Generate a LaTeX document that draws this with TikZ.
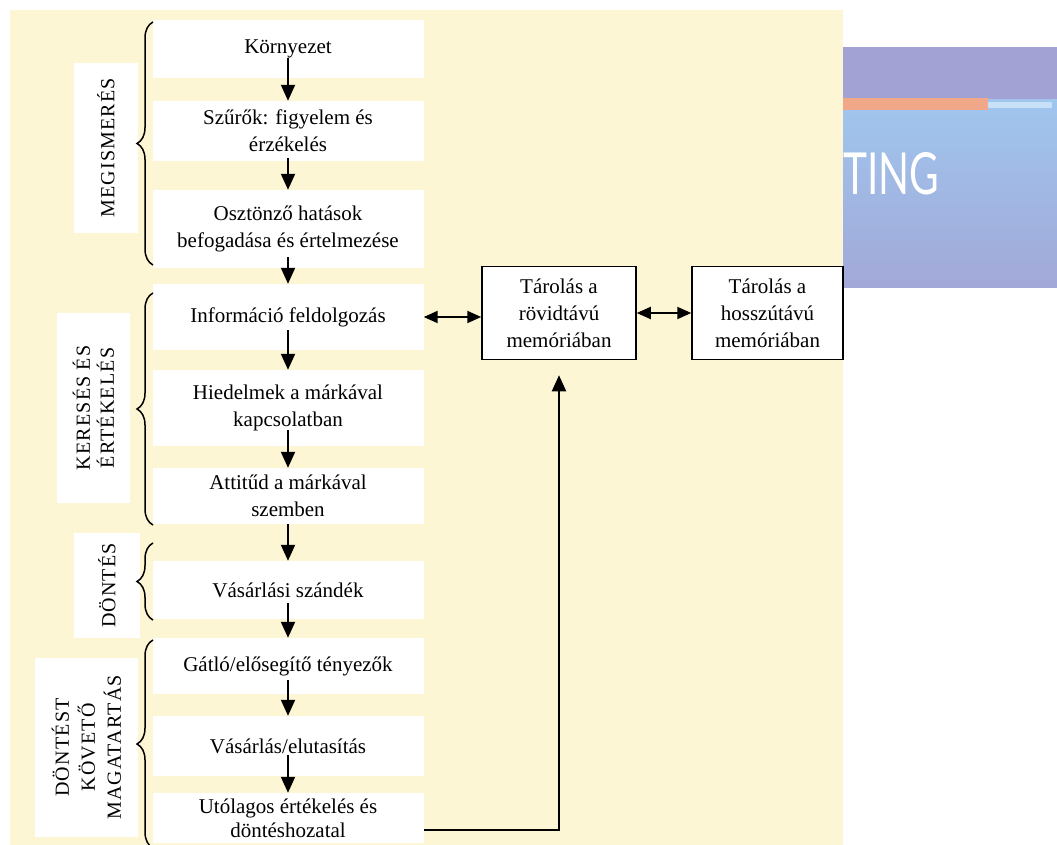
\documentclass[tikz,border=0pt]{standalone}
\usepackage{fontspec}
\setmainfont{Liberation Serif}
\newfontfamily\cimfont{Lato}
\newfontfamily\ritkafont[LetterSpace=6]{Liberation Serif}
\usetikzlibrary{arrows.meta,decorations.pathreplacing}
\definecolor{krem}{RGB}{253,246,212}
\definecolor{lila}{RGB}{162,163,212}
\definecolor{egkek}{RGB}{160,198,238}
\definecolor{narancs}{RGB}{240,168,136}
\definecolor{halvany}{RGB}{200,224,248}
\begin{document}
\begin{tikzpicture}[x=1pt, y=-1pt,
    font=\fontsize{21}{27}\selectfont,
    doboz/.style={fill=white, minimum width=271pt, align=center, inner sep=0pt},
    cimke/.style={fill=white, rotate=90, align=center, inner sep=0pt, font=\ritkafont\fontsize{20}{26}\selectfont},
    tarolo/.style={draw, line width=1.5pt, fill=white, minimum height=93pt, align=center, inner sep=0pt},
    nyil/.style={-{Triangle[length=16pt, width=14pt]}, line width=2pt},
    kettos/.style={{Triangle[length=14pt, width=12pt]}-{Triangle[length=14pt, width=12pt]}, line width=2pt},
    kapocs/.style={decorate, decoration={brace, amplitude=16pt}, line width=1.5pt}]
\useasboundingbox (0,0) rectangle (1057,845);

% háttér és a dia sarka
\fill[krem] (10,10) rectangle (843,845);
\fill[lila] (843,47) rectangle (1057,100);
\shade[top color=egkek, bottom color=lila!85!egkek] (843,100) rectangle (1057,287);
\fill[narancs] (843,98) rectangle (988,110);
\fill[halvany] (988,102) rectangle (1052,108);
\node[anchor=west, text=white, inner sep=0pt, font={\cimfont\fontsize{58}{60}\selectfont}] (ting) at (843,174) {\scalebox{0.7}[1]{TING}};

% a folyamat lépései
\node[doboz, minimum height=58pt] (kornyezet) at (288,49) {Környezet};
\node[doboz, minimum height=60pt] (szurok) at (288,131) {Szűrők: figyelem és\\ érzékelés};
\node[doboz, minimum height=78pt] (osztonzo) at (288,229) {Osztönző hatások\\ befogadása és értelmezése};
\node[doboz, minimum height=66pt] (informacio) at (288,317) {Információ feldolgozás};
\node[doboz, minimum height=76pt] (hiedelmek) at (288,408) {Hiedelmek a márkával\\ kapcsolatban};
\node[doboz, minimum height=56pt] (attitud) at (288,496) {Attitűd a márkával\\ szemben};
\node[doboz, minimum height=58pt] (szandek) at (288,590) {Vásárlási szándék};
\node[doboz, minimum height=56pt] (gatlo) at (288,666) {Gátló/elősegítő tényezők};
\node[doboz, minimum height=60pt] (vasarlas) at (288,746) {Vásárlás/elutasítás};
\node[doboz, minimum height=50pt, font=\fontsize{21}{24}\selectfont] (utolagos) at (288,818) {Utólagos értékelés és\\ döntéshozatal};

% memória
\node[tarolo, minimum width=154pt] (rovid) at (559,313) {Tárolás a\\ rövidtávú\\ memóriában};
\node[tarolo, minimum width=151pt] (hosszu) at (767.5,313) {Tárolás a\\ hosszútávú\\ memóriában};

% szakaszok
\node[cimke, minimum width=170pt, minimum height=64pt] (megismeres) at (106,148) {MEGISMERÉS};
\node[cimke, minimum width=190pt, minimum height=73pt, font=\ritkafont\fontsize{20}{24}\selectfont] (kereses) at (93.5,408) {KERESÉS ÉS\\ ÉRTÉKELÉS};
\node[cimke, minimum width=105pt, minimum height=66pt] (dontes) at (107,585.5) {DÖNTÉS};
\node[cimke, minimum width=179pt, minimum height=103pt] (kovet) at (86.5,747.5) {DÖNTÉST\\ KÖVETŐ\\ MAGATARTÁS};

\draw[kapocs] (153,265) -- (153,22);
\draw[kapocs] (153,525) -- (153,293);
\draw[kapocs] (153,620) -- (153,543);
\draw[kapocs] (153,848) -- (153,640);

% nyilak
\draw[nyil] ([yshift=20pt]kornyezet.south) -- (szurok.north);
\draw[nyil] ([yshift=3pt]szurok.south) -- (osztonzo.north);
\draw[nyil] ([yshift=11pt]osztonzo.south) -- (informacio.north);
\draw[nyil] ([yshift=20pt]informacio.south) -- (hiedelmek.north);
\draw[nyil] ([yshift=16pt]hiedelmek.south) -- (attitud.north);
\draw[nyil] (attitud.south) -- (szandek.north);
\draw[nyil] ([yshift=16pt]szandek.south) -- (gatlo.north);
\draw[nyil] ([yshift=14pt]gatlo.south) -- (vasarlas.north);
\draw[nyil] ([yshift=21pt]vasarlas.south) -- (utolagos.north);

\draw[kettos] (informacio.east) -- (informacio.east -| rovid.west);
\draw[kettos] (rovid.east) -- (hosszu.west);
\draw[nyil] ([yshift=-12pt]utolagos.east) -| ([yshift=-15pt]rovid.south);
\end{tikzpicture}
\end{document}
